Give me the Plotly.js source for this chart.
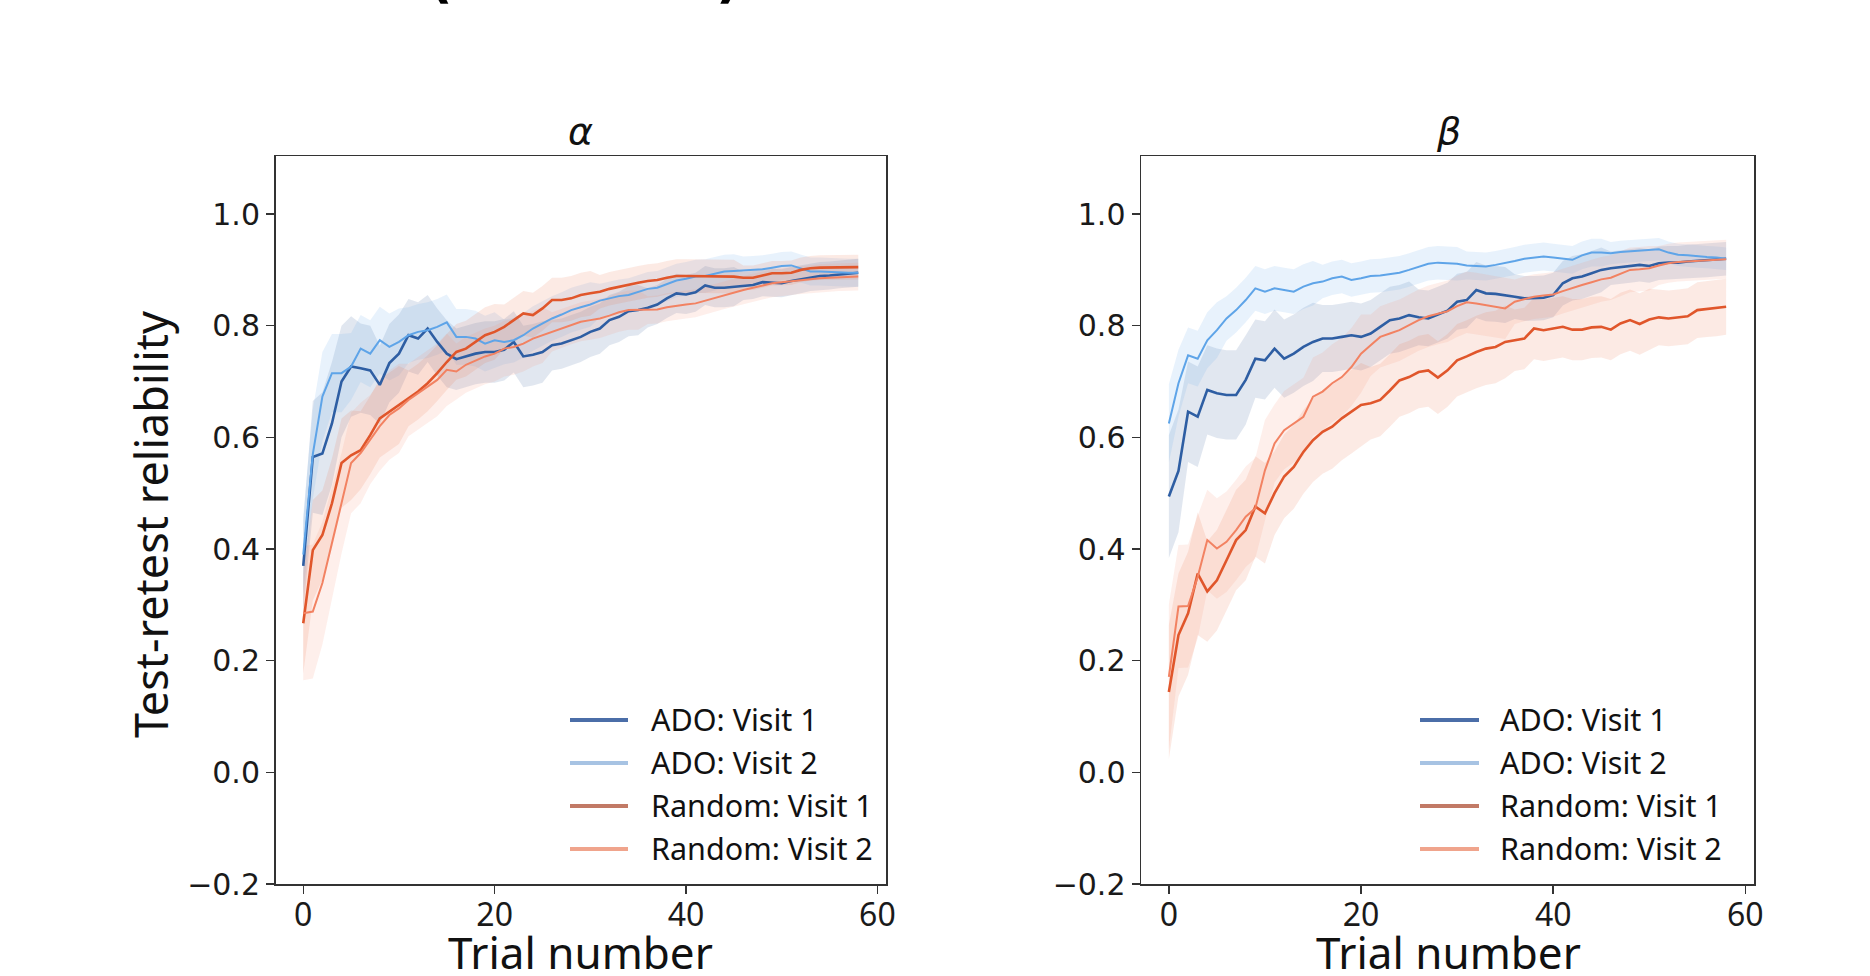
<!DOCTYPE html>
<html>
<head>
<meta charset="utf-8">
<script src="https://cdn.plot.ly/plotly-3.0.1.min.js"></script>
<style>html,body{margin:0;padding:0;background:#fff;}#chart{width:1870px;height:976px;}</style>
</head>
<body>
<div id="chart"></div>
<script>
// ---------------- data ----------------
const trials = [0,1,2,3,4,5,6,7,8,9,10,11,12,13,14,15,16,17,18,19,20,21,22,23,24,25,26,27,28,29,30,31,32,33,34,35,36,37,38,39,40,41,42,43,44,45,46,47,48,49,50,51,52,53,54,55,56,57,58];

const seriesNames = ["ADO: Visit 1", "ADO: Visit 2", "Random: Visit 1", "Random: Visit 2"];
const panelTitles = ["α", "β"];
const xTickVals = [0, 20, 40, 60];
const yTickVals = [-0.2, 0.0, 0.2, 0.4, 0.6, 0.8, 1.0];

// alpha panel: means
const alphaAdoV1 = [0.370,0.565,0.571,0.625,0.700,0.727,0.724,0.720,0.694,0.733,0.750,0.783,0.777,0.795,0.771,0.750,0.740,0.745,0.750,0.753,0.753,0.757,0.771,0.745,0.748,0.753,0.765,0.768,0.774,0.780,0.789,0.795,0.810,0.816,0.826,0.828,0.832,0.838,0.849,0.858,0.856,0.860,0.872,0.868,0.868,0.870,0.871,0.873,0.878,0.877,0.876,0.880,0.883,0.887,0.889,0.890,0.892,0.894,0.895];
const alphaAdoV2 = [0.390,0.570,0.673,0.715,0.715,0.727,0.759,0.750,0.774,0.762,0.771,0.783,0.789,0.792,0.798,0.806,0.780,0.780,0.777,0.768,0.774,0.771,0.774,0.783,0.795,0.804,0.813,0.820,0.828,0.833,0.838,0.845,0.849,0.853,0.855,0.860,0.866,0.868,0.874,0.881,0.884,0.888,0.889,0.893,0.897,0.898,0.899,0.900,0.901,0.904,0.907,0.908,0.902,0.897,0.897,0.896,0.896,0.895,0.895];
const alphaRandV1 = [0.267,0.398,0.425,0.482,0.554,0.568,0.577,0.604,0.634,0.646,0.658,0.670,0.682,0.697,0.715,0.735,0.753,0.759,0.771,0.783,0.789,0.798,0.810,0.822,0.819,0.831,0.846,0.846,0.849,0.855,0.858,0.861,0.866,0.870,0.873,0.877,0.880,0.882,0.886,0.889,0.889,0.889,0.888,0.888,0.888,0.888,0.886,0.886,0.890,0.894,0.894,0.895,0.900,0.903,0.904,0.904,0.905,0.905,0.905];
const alphaRandV2 = [0.285,0.288,0.339,0.410,0.482,0.554,0.572,0.596,0.620,0.640,0.652,0.667,0.679,0.691,0.703,0.721,0.718,0.730,0.738,0.745,0.750,0.759,0.762,0.768,0.777,0.783,0.789,0.795,0.802,0.807,0.810,0.813,0.818,0.824,0.828,0.828,0.828,0.829,0.833,0.836,0.838,0.840,0.845,0.850,0.855,0.859,0.864,0.868,0.872,0.876,0.878,0.880,0.882,0.884,0.885,0.886,0.887,0.888,0.888];

// alpha panel: half-widths of the shaded bands
const alphaAdoV1Err = [0.08,0.10,0.11,0.11,0.10,0.09,0.08,0.08,0.07,0.07,0.07,0.065,0.065,0.06,0.06,0.06,0.055,0.055,0.055,0.055,0.055,0.055,0.055,0.055,0.055,0.055,0.045,0.045,0.045,0.045,0.045,0.045,0.045,0.045,0.045,0.045,0.035,0.035,0.035,0.035,0.035,0.035,0.035,0.035,0.035,0.035,0.025,0.025,0.025,0.025,0.025,0.025,0.025,0.025,0.025,0.025,0.025,0.025,0.025];
const alphaAdoV2Err = [0.07,0.08,0.08,0.07,0.07,0.06,0.06,0.06,0.06,0.06,0.06,0.05,0.05,0.05,0.05,0.05,0.05,0.05,0.05,0.05,0.05,0.04,0.04,0.04,0.04,0.04,0.04,0.04,0.04,0.04,0.04,0.03,0.03,0.03,0.03,0.03,0.03,0.03,0.03,0.03,0.03,0.03,0.03,0.03,0.03,0.03,0.025,0.025,0.025,0.025,0.025,0.025,0.025,0.025,0.025,0.025,0.025,0.025,0.025];
const alphaRandV1Err = [0.09,0.09,0.08,0.08,0.08,0.08,0.07,0.07,0.07,0.07,0.07,0.05,0.05,0.05,0.05,0.05,0.05,0.05,0.05,0.05,0.05,0.04,0.04,0.04,0.04,0.04,0.04,0.04,0.04,0.04,0.04,0.03,0.03,0.03,0.03,0.03,0.03,0.03,0.03,0.03,0.03,0.03,0.03,0.03,0.03,0.03,0.022,0.022,0.022,0.022,0.022,0.022,0.022,0.022,0.022,0.022,0.022,0.022,0.022];
const alphaRandV2Err = [0.12,0.12,0.11,0.10,0.09,0.09,0.09,0.08,0.08,0.08,0.08,0.065,0.065,0.065,0.065,0.065,0.05,0.05,0.05,0.05,0.05,0.05,0.05,0.05,0.05,0.05,0.035,0.035,0.035,0.035,0.035,0.035,0.035,0.035,0.035,0.035,0.025,0.025,0.025,0.025,0.025,0.025,0.025,0.025,0.025,0.025,0.025,0.025,0.025,0.025,0.025,0.025,0.025,0.025,0.025,0.025,0.025,0.025,0.025];

// beta panel: means
const betaAdoV1 = [0.494,0.540,0.646,0.637,0.685,0.679,0.676,0.676,0.703,0.741,0.738,0.759,0.741,0.750,0.762,0.771,0.777,0.777,0.780,0.783,0.780,0.786,0.798,0.810,0.813,0.819,0.815,0.813,0.820,0.827,0.843,0.846,0.864,0.858,0.857,0.855,0.852,0.849,0.849,0.850,0.855,0.876,0.885,0.888,0.894,0.900,0.903,0.905,0.907,0.909,0.907,0.912,0.913,0.913,0.915,0.916,0.917,0.918,0.920];
const betaAdoV2 = [0.625,0.697,0.747,0.741,0.774,0.792,0.813,0.828,0.846,0.867,0.861,0.867,0.864,0.861,0.870,0.876,0.879,0.885,0.888,0.882,0.885,0.889,0.890,0.892,0.895,0.900,0.905,0.911,0.913,0.912,0.911,0.908,0.907,0.906,0.909,0.912,0.916,0.920,0.922,0.924,0.922,0.920,0.918,0.926,0.931,0.931,0.930,0.932,0.933,0.935,0.936,0.937,0.931,0.927,0.926,0.924,0.923,0.922,0.920];
const betaRandV1 = [0.144,0.246,0.285,0.356,0.324,0.344,0.380,0.416,0.434,0.476,0.464,0.500,0.530,0.547,0.574,0.595,0.610,0.619,0.634,0.646,0.658,0.661,0.667,0.684,0.702,0.708,0.717,0.720,0.707,0.720,0.738,0.745,0.753,0.759,0.762,0.771,0.774,0.777,0.795,0.792,0.795,0.798,0.793,0.793,0.797,0.798,0.793,0.804,0.810,0.803,0.811,0.815,0.813,0.815,0.817,0.828,0.830,0.831,0.834];
const betaRandV2 = [0.171,0.297,0.298,0.350,0.416,0.401,0.413,0.434,0.458,0.473,0.541,0.589,0.613,0.625,0.637,0.673,0.682,0.697,0.708,0.726,0.750,0.765,0.780,0.786,0.792,0.801,0.810,0.817,0.822,0.826,0.835,0.842,0.840,0.837,0.834,0.831,0.843,0.848,0.852,0.854,0.856,0.862,0.868,0.873,0.878,0.883,0.886,0.893,0.900,0.901,0.903,0.908,0.912,0.914,0.915,0.917,0.918,0.918,0.919];

// beta panel: half-widths of the shaded bands
const betaAdoV1Err = [0.11,0.11,0.09,0.09,0.08,0.08,0.08,0.08,0.08,0.07,0.07,0.07,0.07,0.07,0.07,0.07,0.06,0.06,0.06,0.06,0.06,0.06,0.06,0.06,0.06,0.06,0.05,0.05,0.05,0.05,0.05,0.05,0.05,0.05,0.05,0.05,0.04,0.04,0.04,0.04,0.04,0.04,0.04,0.04,0.04,0.04,0.03,0.03,0.03,0.03,0.03,0.03,0.03,0.03,0.03,0.03,0.03,0.03,0.03];
const betaAdoV2Err = [0.07,0.06,0.05,0.05,0.05,0.05,0.04,0.04,0.04,0.04,0.04,0.04,0.04,0.04,0.04,0.04,0.03,0.03,0.03,0.03,0.03,0.03,0.03,0.03,0.03,0.03,0.03,0.03,0.03,0.03,0.03,0.025,0.025,0.025,0.025,0.025,0.025,0.025,0.025,0.025,0.025,0.025,0.025,0.025,0.025,0.025,0.02,0.02,0.02,0.02,0.02,0.02,0.02,0.02,0.02,0.02,0.02,0.02,0.02];
const betaRandV1Err = [0.12,0.11,0.11,0.11,0.09,0.09,0.09,0.09,0.09,0.09,0.09,0.075,0.075,0.075,0.075,0.075,0.075,0.075,0.075,0.075,0.075,0.065,0.065,0.065,0.065,0.065,0.065,0.065,0.065,0.065,0.065,0.065,0.065,0.065,0.065,0.065,0.055,0.055,0.055,0.055,0.055,0.055,0.055,0.055,0.055,0.055,0.055,0.055,0.055,0.055,0.055,0.05,0.05,0.05,0.05,0.05,0.05,0.05,0.05];
const betaRandV2Err = [0.13,0.11,0.11,0.11,0.09,0.09,0.09,0.09,0.09,0.09,0.09,0.07,0.07,0.07,0.07,0.07,0.07,0.07,0.07,0.07,0.07,0.055,0.055,0.055,0.055,0.055,0.055,0.055,0.055,0.055,0.055,0.055,0.055,0.055,0.055,0.055,0.04,0.04,0.04,0.04,0.04,0.04,0.04,0.04,0.04,0.04,0.04,0.04,0.04,0.04,0.04,0.035,0.035,0.035,0.035,0.035,0.035,0.035,0.035];

// ---------------- styling ----------------
const W = 1870, H = 976;
const px = v => v / W;
const py = v => 1 - v / H;

const lineColors = ["#2e5ea3", "#5ea4e8", "#e0562b", "#f28262"];
const lineWidths = [2.6, 2.0, 2.6, 2.0];
const bandColors = ["rgba(70,105,160,0.16)", "rgba(110,175,235,0.16)", "rgba(232,105,65,0.14)", "rgba(246,145,115,0.14)"];
const legendColors = ["#4b6ea8", "#a7c3e3", "#c27a66", "#f0a48c"];

const panels = [
  {means: [alphaAdoV1, alphaAdoV2, alphaRandV1, alphaRandV2], errs: [alphaAdoV1Err, alphaAdoV2Err, alphaRandV1Err, alphaRandV2Err], xa: "x", ya: "y"},
  {means: [betaAdoV1, betaAdoV2, betaRandV1, betaRandV2], errs: [betaAdoV1Err, betaAdoV2Err, betaRandV1Err, betaRandV2Err], xa: "x2", ya: "y2"}
];

const traces = [];
panels.forEach(p => {
  // bands first
  p.means.forEach((m, i) => {
    const e = p.errs[i];
    const upper = m.map((v, k) => v + e[k]);
    const lower = m.map((v, k) => v - e[k]);
    traces.push({
      x: trials.concat(trials.slice().reverse()),
      y: upper.concat(lower.slice().reverse()),
      xaxis: p.xa, yaxis: p.ya,
      type: "scatter", mode: "lines", fill: "toself",
      fillcolor: bandColors[i], line: {width: 0, color: "rgba(0,0,0,0)"},
      hoverinfo: "skip", showlegend: false
    });
  });
  p.means.forEach((m, i) => {
    traces.push({
      x: trials, y: m, xaxis: p.xa, yaxis: p.ya,
      type: "scatter", mode: "lines", name: seriesNames[i],
      line: {color: lineColors[i], width: lineWidths[i]},
      showlegend: false
    });
  });
});

const frame = {
  showline: true, mirror: true, linecolor: "#333", linewidth: 1.5,
  showgrid: false, zeroline: false,
  ticks: "outside", ticklen: 8, tickwidth: 1.5, tickcolor: "#333"
};
const xCommon = Object.assign({}, frame, {
  range: [-2.9, 60.9], tickmode: "array", tickvals: xTickVals,
  ticklabelstandoff: -6,
  tickfont: {family: "Noto Sans", size: 32, color: "#1a1a1a"}
});
const yCommon = Object.assign({}, frame, {
  range: [-0.2, 1.104], tickmode: "array", tickvals: yTickVals, tickformat: ".1f",
  tickfont: {family: "DejaVu Sans", size: 30, color: "#1a1a1a"}
});

const yDom = [py(884), py(156)];
const layout = {
  width: W, height: H,
  margin: {l: 0, r: 0, t: 0, b: 0},
  paper_bgcolor: "#fff", plot_bgcolor: "#fff",
  showlegend: false,
  xaxis: Object.assign({}, xCommon, {domain: [px(275.5), px(886)], anchor: "y"}),
  yaxis: Object.assign({}, yCommon, {domain: yDom, anchor: "x"}),
  xaxis2: Object.assign({}, xCommon, {domain: [px(1141), px(1754)], anchor: "y2"}),
  yaxis2: Object.assign({}, yCommon, {domain: yDom, anchor: "x2"}),
  annotations: [],
  shapes: []
};

const ann = (text, x, y, opts) => Object.assign({
  text: text, x: px(x), y: py(y), xref: "paper", yref: "paper",
  showarrow: false, xanchor: "center", yanchor: "middle"
}, opts || {});

// cut-off figure heading (only the bottoms of its brackets are visible)
layout.annotations.push(ann("(", 440, 12, {yanchor: "bottom", font: {family: "DejaVu Sans", size: 54, color: "#000", weight: "bold"}}));
layout.annotations.push(ann(")", 728, 12, {yanchor: "bottom", font: {family: "DejaVu Sans", size: 54, color: "#000", weight: "bold"}}));

// panel titles
layout.annotations.push(ann("<i>" + panelTitles[0] + "</i>", 580, 131, {font: {family: "DejaVu Sans", size: 38, color: "#111"}}));
layout.annotations.push(ann("<i>" + panelTitles[1] + "</i>", 1448, 131, {font: {family: "DejaVu Sans", size: 38, color: "#111"}}));

// axis titles
layout.annotations.push(ann("Test-retest reliability", 150, 525, {textangle: -90, font: {family: "Noto Sans", size: 45, color: "#111"}}));
layout.annotations.push(ann("Trial number", 580, 952, {font: {family: "Noto Sans", size: 44, color: "#111"}}));
layout.annotations.push(ann("Trial number", 1448, 952, {font: {family: "Noto Sans", size: 44, color: "#111"}}));

// legends (one per panel)
const legendRows = [720, 763, 806, 849];
[{x0: 570, x1: 628, tx: 649}, {x0: 1420, x1: 1479, tx: 1498}].forEach(L => {
  seriesNames.forEach((name, i) => {
    layout.shapes.push({type: "line", xref: "paper", yref: "paper",
      x0: px(L.x0), x1: px(L.x1), y0: py(legendRows[i]), y1: py(legendRows[i]),
      line: {color: legendColors[i], width: 4}});
    layout.annotations.push(ann(name, L.tx, legendRows[i] - 1, {xanchor: "left",
      font: {family: "Noto Sans", size: 30.5, color: "#111"}}));
  });
});

Plotly.newPlot("chart", traces, layout, {displayModeBar: false, staticPlot: true});
</script>
</body>
</html>
